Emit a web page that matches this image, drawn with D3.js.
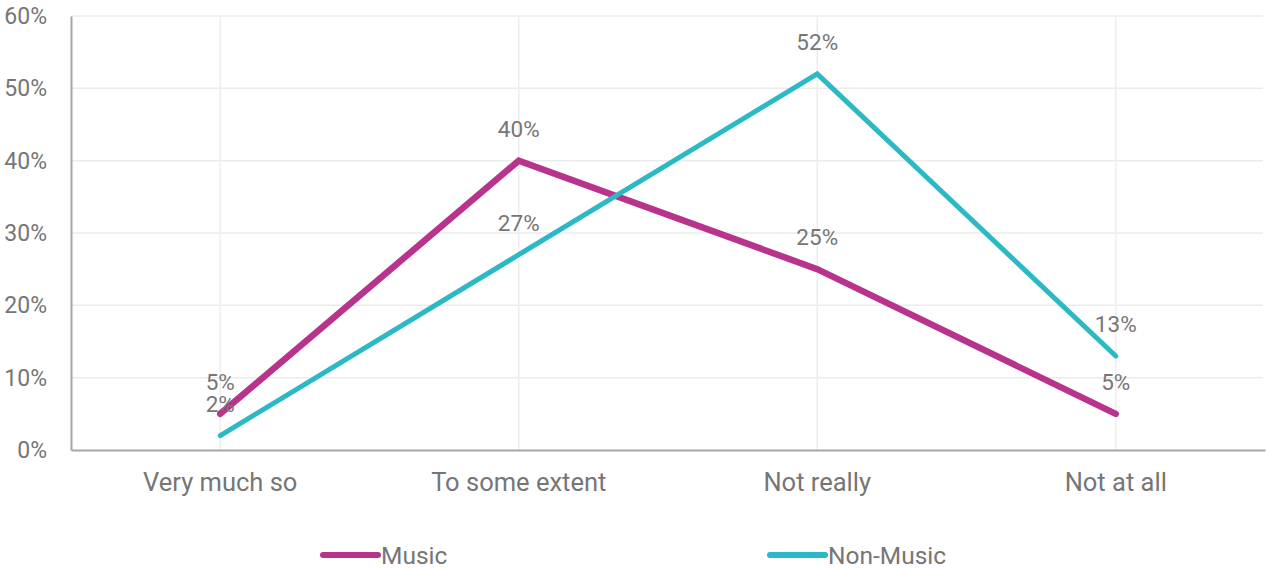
<!DOCTYPE html>
<html>
<head>
<meta charset="utf-8">
<script src="https://cdn.jsdelivr.net/npm/d3@7"></script>
<style>
  html, body { margin: 0; padding: 0; background: #fff; }
  svg { display: block; }
  text { font-family: Roboto, "Open Sans", sans-serif; fill: #767676; }
</style>
</head>
<body>
<svg id="chart" width="1266" height="569"></svg>
<script>
const categories = ["Very much so", "To some extent", "Not really", "Not at all"];
const musicValues = [5, 40, 25, 5];
const nonMusicValues = [2, 27, 52, 13];
const yTicks = [0, 10, 20, 30, 40, 50, 60];

const series = [
  { name: "Music", values: musicValues, color: "#b8338b", width: 6.5 },
  { name: "Non-Music", values: nonMusicValues, color: "#2bb9c5", width: 5 }
];

const svg = d3.select("#chart");
const plotLeft = 71, plotRight = 1265, plotTop = 16, plotBottom = 450;

const x = d3.scaleBand().domain(categories).range([plotLeft, plotRight]);
const y = d3.scaleLinear().domain([0, 60]).range([plotBottom, plotTop]);
const cx = c => x(c) + x.bandwidth() / 2;

// horizontal gridlines
svg.append("g")
  .selectAll("line")
  .data(yTicks.filter(t => t > 0))
  .join("line")
  .attr("x1", plotLeft).attr("x2", plotRight - 2)
  .attr("y1", d => y(d)).attr("y2", d => y(d))
  .attr("stroke", "#ebebeb").attr("stroke-width", 1.5);

// vertical gridlines at category centres
svg.append("g")
  .selectAll("line")
  .data(categories)
  .join("line")
  .attr("x1", d => cx(d)).attr("x2", d => cx(d))
  .attr("y1", plotTop).attr("y2", plotBottom)
  .attr("stroke", "#eeeeee").attr("stroke-width", 1.5);

// y axis
const yAxis = svg.append("g")
  .attr("transform", `translate(${plotLeft},0)`)
  .call(d3.axisLeft(y).tickValues(yTicks).tickFormat(d => d + "%").tickSize(0).tickPadding(24));
yAxis.select(".domain").attr("stroke", "#a6a6a6").attr("stroke-width", 2);
yAxis.selectAll("text").attr("font-size", 23).attr("fill", "#767676")
  .style("font-family", "Roboto, sans-serif");

// x axis
const xAxis = svg.append("g")
  .attr("transform", `translate(0,${plotBottom})`)
  .call(d3.axisBottom(x).tickSize(0).tickPadding(23));
xAxis.select(".domain").attr("stroke", "#a6a6a6").attr("stroke-width", 2);
xAxis.selectAll("text").attr("font-size", 25.5).attr("fill", "#767676")
  .style("font-family", "Roboto, sans-serif");

// lines
const line = d3.line().x((d, i) => cx(categories[i])).y(d => y(d));
svg.append("g")
  .selectAll("path")
  .data(series)
  .join("path")
  .attr("d", s => line(s.values))
  .attr("fill", "none")
  .attr("stroke", s => s.color)
  .attr("stroke-width", s => s.width)
  .attr("stroke-linecap", "round")
  .attr("stroke-linejoin", "miter");

// data labels
series.forEach(s => {
  svg.append("g")
    .selectAll("text")
    .data(s.values)
    .join("text")
    .attr("x", (d, i) => cx(categories[i]))
    .attr("y", d => y(d) - 24)
    .attr("text-anchor", "middle")
    .attr("font-size", 22.5)
    .attr("fill", "#7a7a7a")
    .text(d => d + "%");
});

// legend
const legend = svg.append("g");
const legendX = [323, 770];
series.forEach((s, i) => {
  legend.append("line")
    .attr("x1", legendX[i]).attr("x2", legendX[i] + 55)
    .attr("y1", 555).attr("y2", 555)
    .attr("stroke", s.color).attr("stroke-width", 6)
    .attr("stroke-linecap", "round");
  legend.append("text")
    .attr("x", legendX[i] + 58).attr("y", 564)
    .attr("font-size", 24.5)
    .attr("fill", "#767676")
    .text(s.name);
});
</script>
</body>
</html>
